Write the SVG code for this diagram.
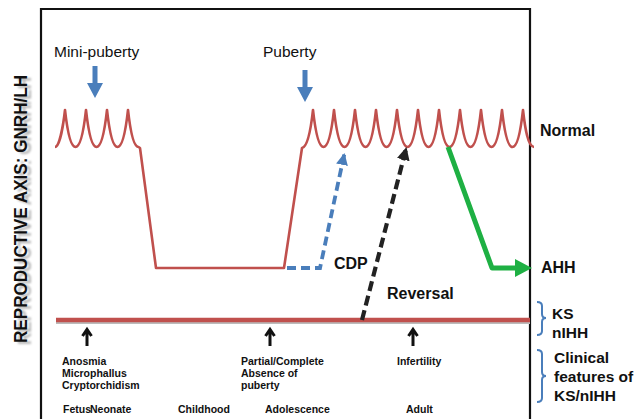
<svg xmlns="http://www.w3.org/2000/svg" width="638" height="419" viewBox="0 0 638 419">
<style>
.lbl{font-family:"Liberation Sans",Arial,sans-serif;fill:#111}
.b{font-weight:bold}
.big{font-size:16px}
.sm{font-size:10.5px;font-weight:bold}
.red{fill:none;stroke:#c0504d;stroke-width:2.6;stroke-linejoin:round}
.brk{fill:none;stroke:#4a7ebb;stroke-width:2}
.up{stroke:#111;stroke-width:3;fill:none}
</style>
<defs>
<filter id="blur" x="-20%" y="-20%" width="140%" height="140%"><feGaussianBlur stdDeviation="1.2"/></filter>
<marker id="mBlue" markerUnits="userSpaceOnUse" markerWidth="14" markerHeight="14" refX="12" refY="6" orient="auto"><path d="M0,0 L12,6 L0,12 Z" fill="#4a7ebb"/></marker>
<marker id="mBlack" markerUnits="userSpaceOnUse" markerWidth="16" markerHeight="16" refX="13" refY="6.5" orient="auto"><path d="M0,0 L13,6.5 L0,13 Z" fill="#222"/></marker>
</defs>
<rect width="638" height="419" fill="#fff"/>
<g id="frame" stroke="#111" stroke-width="2.2" fill="none">
<path d="M41,421 L41,9 L530,9 L530,421"/>
</g>
<g id="axis-label">
<text class="lbl b" font-size="19" filter="url(#blur)" transform="translate(31,211) rotate(-90)" text-anchor="middle" textLength="268" lengthAdjust="spacingAndGlyphs" style="fill:#b5b5b5">REPRODUCTIVE AXIS: GNRH/LH</text>
<text class="lbl b" font-size="19" transform="translate(27,209) rotate(-90)" text-anchor="middle" textLength="268" lengthAdjust="spacingAndGlyphs">REPRODUCTIVE AXIS: GNRH/LH</text>
</g>
<g id="normal-curve">
<path class="red" d="M55,147 C59,147 63,128 65,110 C67,128 70,147 75.5,147 C81,147 84,128 86,110 C88,128 91,147 96.5,147 C102,147 105,128 107,110 C109,128 112,147 117.5,147 C123,147 126,128 128,110 C130,128 133,147 138.5,147 L140,148 L156,268 L284,268 L302,148 C308,147 311,128 313,110 C315,128 318,147 323.5,147 C329,147 332,128 334,110 C336,128 339,147 344.5,147 C350,147 353,128 355,110 C357,128 360,147 365.5,147 C371,147 374,128 376,110 C378,128 381,147 386.5,147 C392,147 395,128 397,110 C399,128 402,147 407.5,147 C413,147 416,128 418,110 C420,128 423,147 428.5,147 C434,147 437,128 439,110 C441,128 444,147 449.5,147 C455,147 458,128 460,110 C462,128 465,147 470.5,147 C476,147 479,128 481,110 C483,128 486,147 491.5,147 C497,147 500,128 502,110 C504,128 507,147 512.5,147 C518,147 521,128 523,110 C525,128 528,147 534,147"/>
</g>
<g id="ks-line">
<line x1="56" y1="323" x2="530" y2="323" stroke="#bbb" stroke-width="2"/>
<line x1="56" y1="320" x2="530" y2="320" stroke="#c0504d" stroke-width="4.5"/>
</g>
<g id="connectors">
<path d="M287,268 L320,268 L344.5,153" fill="none" stroke="#4a7ebb" stroke-width="3.8" stroke-dasharray="9,5" marker-end="url(#mBlue)"/>
<path d="M362,320 L406.5,147" fill="none" stroke="#222" stroke-width="4.2" stroke-dasharray="10,5" marker-end="url(#mBlack)"/>
<path d="M448,147 L492,268 L518,268" fill="none" stroke="#1eb043" stroke-width="5" stroke-linejoin="round"/>
<path d="M515,259 L532,268 L515,277 Z" fill="#1eb043"/>
</g>
<g id="mini-puberty">
<text class="lbl" x="54" y="57" font-size="15.5">Mini-puberty</text>
<rect x="92.5" y="66" width="5" height="18" fill="#4a7ebb"/>
<path d="M87,83 L103,83 L95,98 Z" fill="#4a7ebb"/>
</g>
<g id="puberty">
<text class="lbl" x="263" y="57" font-size="15.5">Puberty</text>
<rect x="302.5" y="70" width="5" height="18" fill="#4a7ebb"/>
<path d="M297,87 L313,87 L305,102 Z" fill="#4a7ebb"/>
</g>
<g id="normal"><text class="lbl b big" x="540" y="136">Normal</text></g>
<g id="ahh"><text class="lbl b big" x="541" y="273">AHH</text></g>
<g id="cdp"><text class="lbl b big" x="334" y="269">CDP</text></g>
<g id="reversal"><text class="lbl b big" x="387" y="299">Reversal</text></g>
<g id="ks-nihh">
<path class="brk" d="M537,302 Q542,302 542,306 L542,314 Q542,318 546,318 Q542,318 542,322 L542,331 Q542,335 537,335"/>
<text class="lbl b" font-size="15.5" x="552" y="319">KS</text>
<text class="lbl b" font-size="15.5" x="552" y="338">nIHH</text>
</g>
<g id="clinical">
<path class="brk" d="M537,350 Q542,350 542,354 L542,372 Q542,376 546,376 Q542,376 542,380 L542,398 Q542,402 537,402"/>
<text class="lbl b" font-size="15.5" x="554" y="363">Clinical</text>
<text class="lbl b" font-size="15.5" x="554" y="382">features of</text>
<text class="lbl b" font-size="15.5" x="554" y="401">KS/nIHH</text>
</g>
<g id="feature-fetal">
<path class="up" d="M87,346 L87,331 M82.5,336 L87,329.5 L91.5,336"/>
<text class="lbl sm" x="62" y="365">Anosmia</text>
<text class="lbl sm" x="62" y="377">Microphallus</text>
<text class="lbl sm" x="62" y="389">Cryptorchidism</text>
</g>
<g id="feature-puberty">
<path class="up" d="M270,346 L270,331 M265.5,336 L270,329.5 L274.5,336"/>
<text class="lbl sm" x="241" y="365">Partial/Complete</text>
<text class="lbl sm" x="241" y="377">Absence of</text>
<text class="lbl sm" x="241" y="389">puberty</text>
</g>
<g id="feature-adult">
<path class="up" d="M413,346 L413,331 M408.5,336 L413,329.5 L417.5,336"/>
<text class="lbl sm" x="397" y="365">Infertility</text>
</g>
<g id="timeline">
<text class="lbl sm" x="63" y="413">Fetus</text>
<text class="lbl sm" x="90" y="413">Neonate</text>
<text class="lbl sm" x="178" y="413">Childhood</text>
<text class="lbl sm" x="265" y="413">Adolescence</text>
<text class="lbl sm" x="406" y="413">Adult</text>
</g>
</svg>
